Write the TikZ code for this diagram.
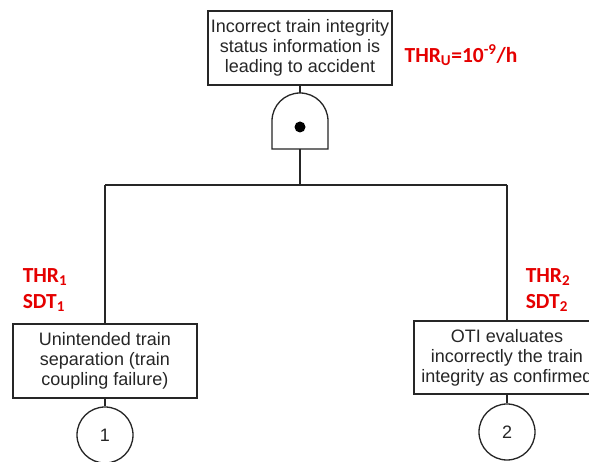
\documentclass[tikz,border=0pt]{standalone}
\usepackage{fontspec}
\setmainfont{Liberation Sans}
\newfontfamily\calib{Carlito}
\begin{document}
\begin{tikzpicture}[x=1pt,y=1pt,
  line width=1.3pt,
  evbox/.style={draw=black!85, fill=white, minimum width=184pt, minimum height=74pt,
    inner sep=0pt, align=center, text=black!85, font=\fontsize{18}{20}\selectfont},
  xfer/.style={draw=black!85, circle, minimum size=56pt, inner sep=0pt, text=black!85,
    font=\fontsize{18}{20}\selectfont},
  rlab/.style={text=red!90!black, font=\calib\bfseries\fontsize{21.5}{24}\selectfont, inner sep=0pt, align=left}]
\clip (0,0) rectangle (589,462);
\useasboundingbox (0,0) rectangle (589,462);
\fill[white] (0,0) rectangle (589,462);
% top event
\node[evbox] (top) at (300,414) {Incorrect train integrity\\status information is\\leading to accident};
\node[rlab] (thru) at (461,407) {THR\textsubscript{U}=10\textsuperscript{-9}/h};
% AND gate
\coordinate (gtop) at (300,369);
\coordinate (gbot) at (300,313);
\draw[draw=black!85] (272,313) -- (272,341) arc[start angle=180, end angle=0, radius=28] -- (328,313) -- cycle;
\fill[black] (300,335) circle (5.5);
\draw[draw=black!85] (top.south) -- (gtop);
% bar
\coordinate (bar) at (300,277);
\coordinate (barl) at (105,277);
\coordinate (barr) at (507,277);
\draw[draw=black!85] (gbot) -- (bar);
\draw[draw=black!85] (barl) -- (barr);
% left branch
\node[evbox] (e1) at (105,101) {Unintended train\\separation (train\\coupling failure)};
\node[xfer] (c1) at (105,27) {1};
\draw[draw=black!85] (barl) -- (e1.north);
\draw[draw=black!85] (e1.south) -- (c1.north);
\node[rlab] (l1) at (45,172) {THR\textsubscript{1}\\[2pt]SDT\textsubscript{1}};
% right branch
\node[evbox, minimum width=186pt, minimum height=73pt] (e2) at (507,104.5) {OTI evaluates\\incorrectly the train\\integrity as confirmed};
\node[xfer] (c2) at (507,30) {2};
\draw[draw=black!85] (barr) -- (e2.north);
\draw[draw=black!85] (e2.south) -- (c2.north);
\node[rlab] (l2) at (548,172) {THR\textsubscript{2}\\[2pt]SDT\textsubscript{2}};
\end{tikzpicture}
\end{document}
